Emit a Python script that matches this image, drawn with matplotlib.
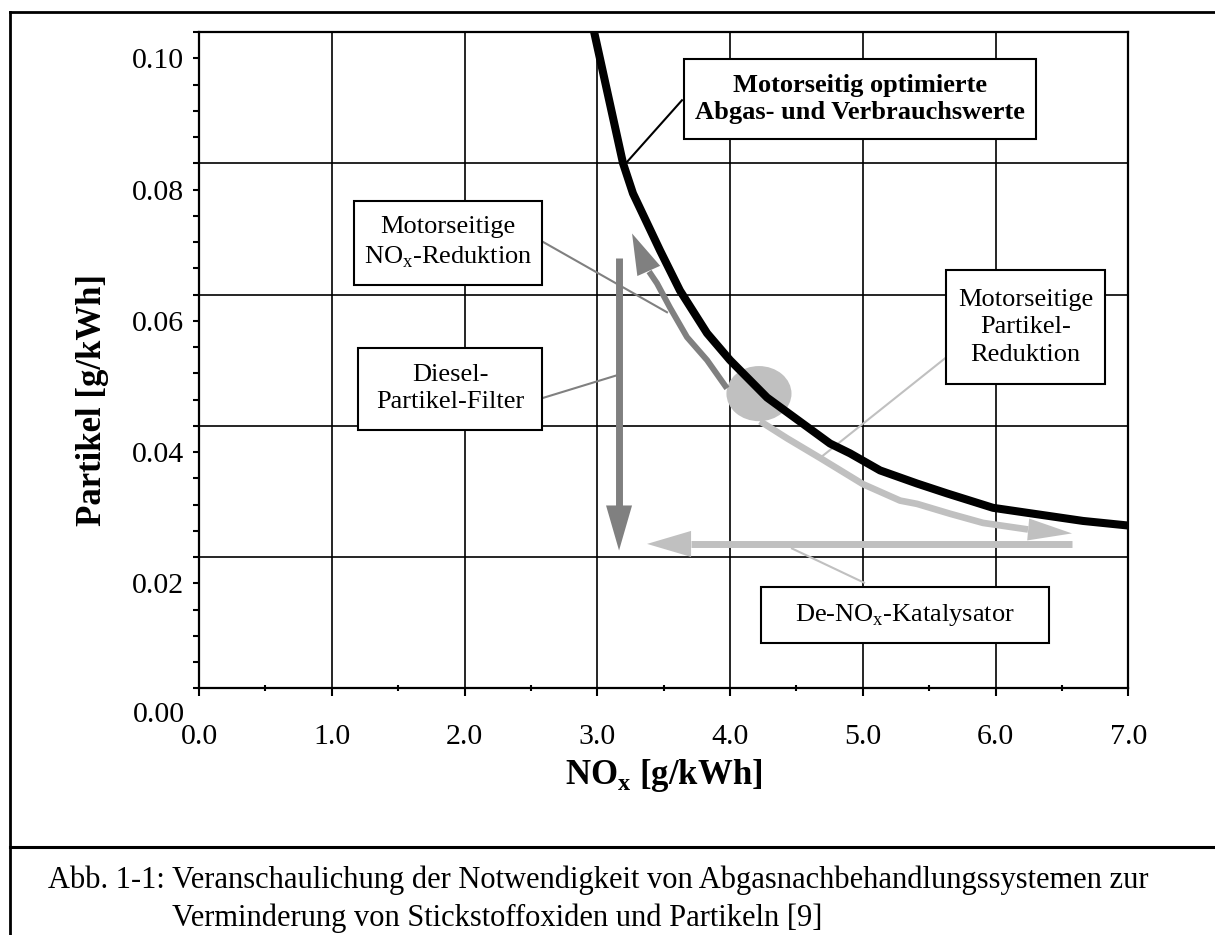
import matplotlib
matplotlib.use("Agg")
import matplotlib.pyplot as plt
from matplotlib.patches import Rectangle, Ellipse
from matplotlib.lines import Line2D

plt.rcParams['font.family'] = 'Liberation Serif'
plt.rcParams['mathtext.fontset'] = 'custom'
plt.rcParams['mathtext.rm'] = 'Liberation Serif'
plt.rcParams['mathtext.bf'] = 'Liberation Serif:bold'

# Grenzkurve (motorseitig optimiert)
curve_x = [2.96, 3.194, 3.269, 3.473, 3.623, 3.827, 4.000, 4.279, 4.753, 4.904,
           5.130, 5.409, 5.634, 5.981, 6.659, 7.000]
curve_y = [0.1055, 0.0840, 0.0794, 0.0707, 0.0646, 0.0581, 0.0540, 0.0483, 0.0413, 0.0398,
           0.0372, 0.0352, 0.0337, 0.0315, 0.0295, 0.0288]

# Motorseitige NOx-Reduktion (Pfeil nach links oben)
noxred_x = [3.977, 3.827, 3.676, 3.548, 3.450, 3.390]
noxred_y = [0.0497, 0.0540, 0.0575, 0.0620, 0.0657, 0.0675]
noxred_tip = (3.262, 0.0733)

# Motorseitige Partikel-Reduktion (Pfeil nach rechts unten)
partred_x = [4.226, 4.429, 4.678, 5.002, 5.281, 5.409, 5.657, 5.906, 6.245]
partred_y = [0.0447, 0.0421, 0.0391, 0.0351, 0.0326, 0.0321, 0.0306, 0.0292, 0.0282]
partred_tip = (6.576, 0.0276)

# Diesel-Partikel-Filter (senkrecht)
dpf_x = [3.164, 3.164]
dpf_y = [0.0695, 0.0318]
dpf_tip = (3.164, 0.0250)

# De-NOx-Katalysator (waagerecht)
denox_x = [6.576, 3.706]
denox_y = [0.0260, 0.0260]
denox_tip = (3.375, 0.0260)

# Betriebspunkt
point_xy = (4.218, 0.0489)

xticks = [0, 1, 2, 3, 4, 5, 6, 7]
xlabels = ['0.0', '1.0', '2.0', '3.0', '4.0', '5.0', '6.0', '7.0']
yticks = [0.02, 0.04, 0.06, 0.08, 0.10]
ylabels = ['0.02', '0.04', '0.06', '0.08', '0.10']
ygrid = [0.024, 0.044, 0.064, 0.084]

DARK = '#808080'
LIGHT = '#c0c0c0'


def head(ax, base, tip, color, length_px, half_px):
    hl = length_px * 0.72
    hw = half_px * 0.72
    ax.annotate('', xy=tip, xytext=base,
                arrowprops=dict(arrowstyle=f'-|>,head_length={hl},head_width={hw}',
                                mutation_scale=1, color=color, lw=0,
                                shrinkA=0, shrinkB=0), zorder=6)


def box(ax, x0, x1, y0, y1, text, bold=False, ls=1.32):
    ax.add_patch(Rectangle((x0, y0), x1 - x0, y1 - y0, facecolor='white',
                           edgecolor='black', lw=1.5, zorder=3))
    ax.text((x0 + x1) / 2, (y0 + y1) / 2, text, ha='center', va='center',
            fontsize=19, fontweight='bold' if bold else 'normal',
            linespacing=ls, zorder=4)


fig = plt.figure(figsize=(12.15, 9.35), dpi=100)
ax = fig.add_axes([199 / 1215, 1 - 688.3 / 935, (1128.3 - 199) / 1215, (688.3 - 32) / 935])
ax.set_xlim(0, 7)
ax.set_ylim(0.004, 0.104)

for x in xticks[1:-1]:
    ax.axvline(x, color='black', lw=1.2, zorder=1)
for y in ygrid:
    ax.axhline(y, color='black', lw=1.2, zorder=1)

ax.set_xticks(xticks)
ax.set_xticklabels(xlabels)
ax.set_xticks([i + 0.5 for i in range(7)], minor=True)
ax.set_yticks(yticks)
ax.set_yticklabels(ylabels)
ax.set_yticks([0.004 * i for i in range(1, 27)], minor=True)
ax.tick_params(axis='x', which='major', direction='out', length=6, width=1.5,
               labelsize=21.5, pad=20)
ax.tick_params(axis='x', which='minor', direction='inout', length=5, width=1.5)
ax.tick_params(axis='y', which='both', direction='out', length=4.5, width=1.5,
               labelsize=21.5, pad=6)
for s in ax.spines.values():
    s.set_linewidth(1.6)
ax.annotate('0.00', xy=(0, 0.0), xycoords=('axes fraction', 'data'),
            xytext=(-10, 0), textcoords='offset points', ha='right', va='center',
            fontsize=21.5, annotation_clip=False)

ax.set_xlabel('NO$_\\mathbf{x}$ [g/kWh]', fontsize=25, fontweight='bold', labelpad=5)
ax.text(-0.115, 0.439, 'Partikel [g/kWh]', transform=ax.transAxes, rotation=90,
        ha='center', va='center', fontsize=25, fontweight='bold')

# Beschriftungskästen
box(ax, 3.653, 6.305, 0.0877, 0.0999, 'Motorseitig optimierte\nAbgas- und Verbrauchswerte',
    bold=True, ls=1.22)
box(ax, 1.168, 2.584, 0.0655, 0.0782, 'Motorseitige\nNO$_\\mathrm{x}$-Reduktion')
box(ax, 1.198, 2.584, 0.0434, 0.0559, 'Diesel-\nPartikel-Filter')
box(ax, 5.627, 6.825, 0.0503, 0.0677, 'Motorseitige\nPartikel-\nReduktion')
box(ax, 4.234, 6.403, 0.0109, 0.0194, 'De-NO$_\\mathrm{x}$-Katalysator')

# Verbindungslinien
ax.plot([3.638, 3.224], [0.0936, 0.0842], color='black', lw=1.5, zorder=2)
ax.plot([2.584, 3.525], [0.0721, 0.0613], color=DARK, lw=1.5, zorder=2)
ax.plot([2.584, 3.149], [0.0482, 0.0517], color=DARK, lw=1.5, zorder=2)
ax.plot([5.627, 4.678], [0.0544, 0.0391], color=LIGHT, lw=1.5, zorder=2)
ax.plot([5.009, 4.467], [0.0201, 0.0253], color=LIGHT, lw=1.5, zorder=2)

ax.add_patch(Ellipse(point_xy, 0.49, 0.0084, facecolor=LIGHT, edgecolor='none', zorder=4))

ax.plot(noxred_x, noxred_y, color=DARK, lw=4.3, solid_capstyle='butt', zorder=5)
head(ax, (noxred_x[-1], noxred_y[-1]), noxred_tip, DARK, 41, 12.5)
ax.plot(partred_x, partred_y, color=LIGHT, lw=4.8, solid_capstyle='butt', zorder=5)
head(ax, (partred_x[-1], partred_y[-1]), partred_tip, LIGHT, 44, 11)
ax.plot(dpf_x, dpf_y, color=DARK, lw=5, solid_capstyle='butt', zorder=5)
head(ax, (dpf_x[-1], dpf_y[-1]), dpf_tip, DARK, 45, 13)
ax.plot(denox_x, denox_y, color=LIGHT, lw=5, solid_capstyle='butt', zorder=5)
head(ax, (denox_x[-1], denox_y[-1]), denox_tip, LIGHT, 44, 13)

ax.plot(curve_x, curve_y, color='black', lw=5.8, solid_joinstyle='round', zorder=7)

# Rahmen und Bildunterschrift
fig.add_artist(Line2D([10 / 1215, 1], [1 - 12 / 935] * 2, color='black', lw=2))
fig.add_artist(Line2D([10 / 1215] * 2, [0, 1 - 12 / 935], color='black', lw=2))
fig.add_artist(Line2D([10 / 1215, 1], [1 - 847 / 935] * 2, color='black', lw=2.2))
fig.text(48 / 1215, 1 - 880 / 935, 'Abb. 1-1:', fontsize=22, va='center')
fig.text(172 / 1215, 1 - 880 / 935,
         'Veranschaulichung der Notwendigkeit von Abgasnachbehandlungssystemen zur',
         fontsize=22, va='center')
fig.text(172 / 1215, 1 - 918 / 935, 'Verminderung von Stickstoffoxiden und Partikeln [9]',
         fontsize=22, va='center')

fig.savefig('out.png', dpi=100)
